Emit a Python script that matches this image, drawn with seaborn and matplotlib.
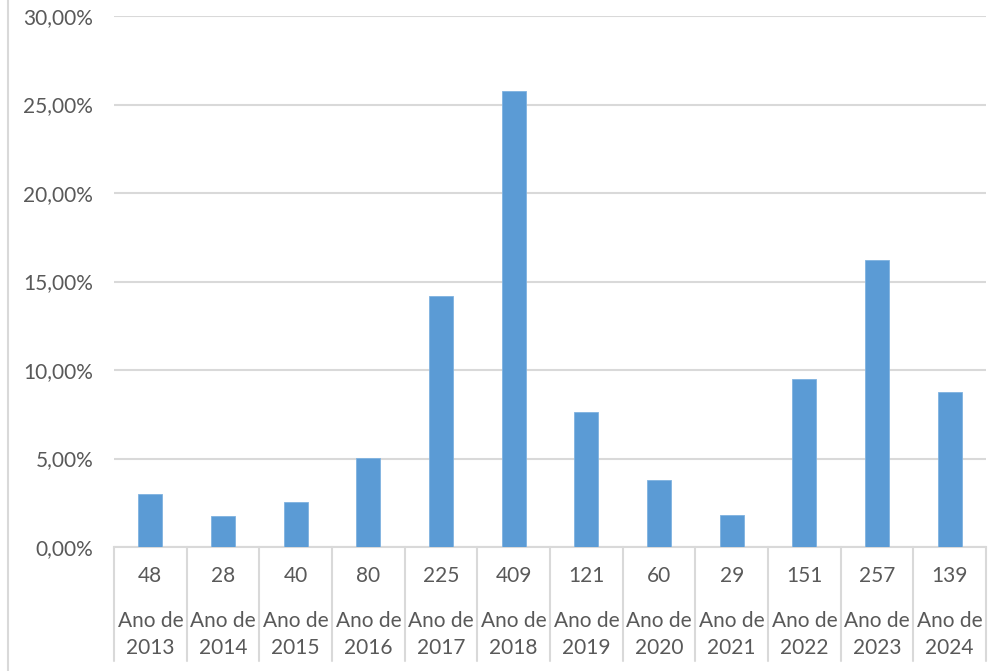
import matplotlib
matplotlib.use("Agg")
import matplotlib.pyplot as plt
import matplotlib.transforms as mtransforms
from matplotlib.lines import Line2D
from matplotlib.ticker import FuncFormatter
import seaborn as sns
import pandas as pd

years = ["2013", "2014", "2015", "2016", "2017", "2018", "2019", "2020", "2021", "2022", "2023", "2024"]
counts = [48, 28, 40, 80, 225, 409, 121, 60, 29, 151, 257, 139]
percents = [3.02, 1.76, 2.52, 5.04, 14.18, 25.77, 7.62, 3.78, 1.83, 9.51, 16.19, 8.76]
year_prefix = "Ano de"

sns.set_theme(style="white")
plt.rcParams["font.family"] = ["Lato", "DejaVu Sans"]

W, H = 998, 671
fig = plt.figure(figsize=(W / 100, H / 100), dpi=100)
ax = fig.add_axes([114 / W, (H - 547) / H, (986 - 114) / W, (547 - 16) / H])

df = pd.DataFrame({"year": years, "pct": [p / 100 for p in percents]})
sns.barplot(data=df, x="year", y="pct", ax=ax, color="#5B9BD5", saturation=1,
            width=0.33, edgecolor="#7FB2E0", linewidth=0.6, zorder=3)

ax.set_xlim(-0.5, len(years) - 0.5)
ax.set_ylim(0, 0.30)
ax.set_yticks([0, 0.05, 0.10, 0.15, 0.20, 0.25, 0.30])
ax.yaxis.set_major_formatter(FuncFormatter(lambda v, p: f"{v*100:.2f}%".replace(".", ",")))
ax.grid(axis="y", color="#D9D9D9", linewidth=1.5, zorder=0)
ax.grid(axis="x", visible=False)
for s in ["top", "right", "left"]:
    ax.spines[s].set_visible(False)
ax.spines["bottom"].set_color("#D9D9D9")
ax.spines["bottom"].set_linewidth(1.5)
ax.set_xlabel("")
ax.set_ylabel("")
ax.set_xticks([])
fs = 15
tc = "#595959"
ax.tick_params(axis="y", length=0, pad=15, labelsize=fs, labelcolor=tc)

trans = mtransforms.blended_transform_factory(ax.transData, ax.transAxes)
ah = 547 - 16

def yfrac(py):
    return (547 - py) / ah

for i, (y, c) in enumerate(zip(years, counts)):
    ax.text(i, yfrac(576), str(c), transform=trans, ha="center", va="center",
            fontsize=fs, color=tc)
    ax.text(i, yfrac(621), year_prefix, transform=trans, ha="center", va="center",
            fontsize=fs, color=tc)
    ax.text(i, yfrac(648), y, transform=trans, ha="center", va="center",
            fontsize=fs, color=tc)

for i in range(len(years) + 1):
    ax.plot([i - 0.5, i - 0.5], [0, yfrac(661)], transform=trans, color="#D9D9D9",
            linewidth=1.5, clip_on=False, zorder=1)

fig.add_artist(Line2D([7.5 / W, 7.5 / W], [0, 1], color="#D9D9D9", linewidth=1.5))

fig.savefig("out.png", dpi=100)
